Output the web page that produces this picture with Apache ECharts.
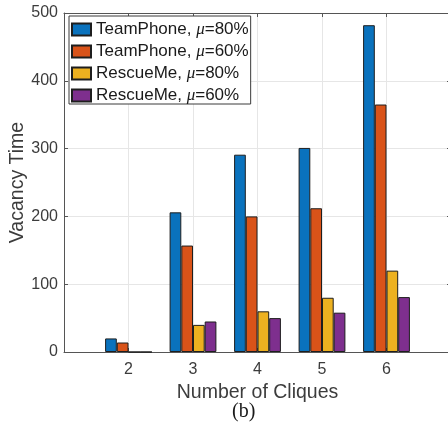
<!DOCTYPE html>
<html>
<head>
<meta charset="utf-8">
<script src="https://cdn.jsdelivr.net/npm/echarts@6/dist/echarts.min.js"></script>
<style>
  html, body { margin: 0; padding: 0; background: #fff; }
  #chart { width: 448px; height: 423px; }
</style>
</head>
<body>
<div id="chart"></div>
<script>
// Number of cliques in each group
const cliques = [2, 3, 4, 5, 6];
// Vacancy time per scheme and willingness level
const teamPhone80 = [20, 206, 291, 301, 482];
const teamPhone60 = [14, 157, 200, 212, 365];
const rescueMe80 = [0, 40, 60, 80, 120];
const rescueMe60 = [0, 45, 50, 58, 81];
const yTicks = [0, 100, 200, 300, 400, 500];

const seriesNames = ['TeamPhone, μ=80%', 'TeamPhone, μ=60%', 'RescueMe, μ=80%', 'RescueMe, μ=60%'];
const seriesValues = [teamPhone80, teamPhone60, rescueMe80, rescueMe60];
const colors = ['#0a72bd', '#d95319', '#edb120', '#7e2f8e'];

const textColor = '#3c3c3c';
const axisColor = '#555555';
const gridColor = '#e6e6e6';
const sans = 'Liberation Sans, Arial, sans-serif';

const chart = echarts.init(document.getElementById('chart'), null, { renderer: 'canvas' });

const xCommon = {
  type: 'value', min: 1, max: 7, interval: 1,
  axisLine: { show: true, onZero: false, lineStyle: { color: axisColor, width: 1 } },
  axisTick: { show: true, inside: true, length: 4, lineStyle: { color: axisColor } },
  splitLine: { show: false }
};
const yCommon = {
  type: 'value', min: yTicks[0], max: yTicks[yTicks.length - 1], interval: 100,
  axisLine: { show: true, onZero: false, lineStyle: { color: axisColor, width: 1 } },
  axisTick: { show: true, inside: true, length: 4, lineStyle: { color: axisColor } },
  splitLine: { show: false }
};

chart.setOption({
  animation: false,
  color: colors,
  textStyle: { fontFamily: sans },
  // the plot box runs slightly past the right edge of the canvas
  grid: { left: 64, top: 13, width: 387, bottom: 71, containLabel: false, outerBoundsMode: 'none' },
  legend: {
    orient: 'vertical',
    left: 69, top: 16,
    data: seriesNames,
    icon: 'rect',
    itemWidth: 19, itemHeight: 12, itemGap: 5,
    padding: [5, 2, 0, 2],
    backgroundColor: '#ffffff',
    borderColor: '#3a3a3a', borderWidth: 1,
    formatter: name => name.replace('μ', '{i|μ}'),
    textStyle: {
      fontFamily: sans, fontSize: 17, color: '#1a1a1a', lineHeight: 16,
      rich: { i: { fontFamily: 'Liberation Serif, serif', fontStyle: 'italic', fontSize: 17, lineHeight: 16, color: '#1a1a1a' } }
    }
  },
  xAxis: [
    Object.assign({}, xCommon, {
      position: 'bottom',
      name: 'Number of Cliques', nameLocation: 'middle', nameGap: 30.5,
      nameMoveOverlap: false,
      nameTextStyle: { fontSize: 19.5, color: textColor, fontFamily: sans },
      axisLabel: {
        fontSize: 16, color: textColor, margin: 10,
        formatter: v => (cliques.indexOf(v) >= 0 ? String(v) : '')
      },
      splitLine: { show: true, lineStyle: { color: gridColor, width: 1 } }
    }),
    Object.assign({}, xCommon, { position: 'top', axisLabel: { show: false } })
  ],
  yAxis: [
    Object.assign({}, yCommon, {
      position: 'left',
      name: 'Vacancy Time', nameLocation: 'middle', nameGap: 36,
      nameMoveOverlap: false,
      nameTextStyle: { fontSize: 19.5, color: textColor, fontFamily: sans },
      axisLabel: { fontSize: 16, color: textColor, margin: 6 },
      splitLine: { show: true, lineStyle: { color: gridColor, width: 1 } }
    }),
    Object.assign({}, yCommon, { position: 'right', axisLabel: { show: false } })
  ],
  graphic: [{
    type: 'text', left: 232, top: 402,
    style: { text: '(b)', fontFamily: 'Liberation Serif, Times New Roman, serif', fontSize: 20, fill: '#1a1a1a' }
  }],
  series: seriesNames.map((name, k) => ({
    name: name,
    type: 'bar',
    xAxisIndex: 0, yAxisIndex: 0,
    barWidth: 11.7, barGap: '0%',
    itemStyle: { color: colors[k], borderColor: '#1e1e1e', borderWidth: 1 },
    data: cliques.map((c, i) => [c, seriesValues[k][i]])
  }))
});
</script>
</body>
</html>
